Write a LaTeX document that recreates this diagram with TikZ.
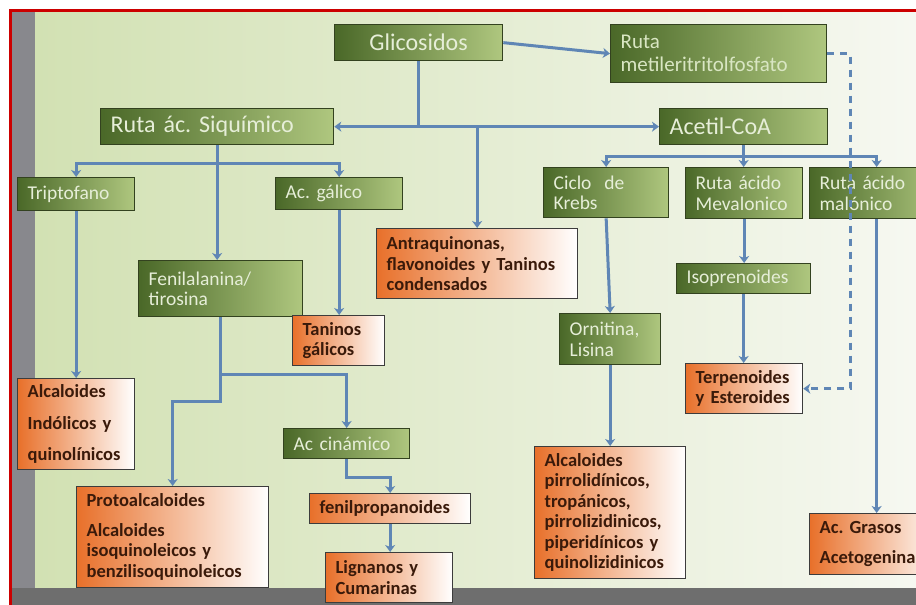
\documentclass[tikz,border=0pt]{standalone}
\usepackage{fontspec}
\setmainfont{Carlito}
\usepackage{xcolor}
\usetikzlibrary{arrows.meta}
\definecolor{gleft}{HTML}{4A6828}
\definecolor{gright}{HTML}{AFC77F}
\definecolor{gdark}{HTML}{33421F}
\definecolor{gtext}{HTML}{E6EED8}
\definecolor{gpale}{HTML}{D9E6C3}
\definecolor{oleft}{HTML}{E8702A}
\definecolor{odraw}{HTML}{3C3C3C}
\definecolor{otext}{HTML}{3A1A0A}
\definecolor{lblue}{HTML}{5F86B5}
\definecolor{bgl}{HTML}{D2E1B3}
\definecolor{bgr}{HTML}{F6F8F1}
\definecolor{framered}{HTML}{CC0000}
\definecolor{lgray}{HTML}{88888D}
\definecolor{bgray}{HTML}{6E6E6E}
\frenchspacing
\begin{document}
\begin{tikzpicture}[x=1pt, y=-1pt,
  >={Stealth[length=7pt,width=10pt,inset=2pt]},
  gbox/.style={draw=gdark, line width=1.3pt, left color=gleft, right color=gright, text=gtext, font=\fontsize{19.5}{20.5}\selectfont, align=left, anchor=north west, inner xsep=10pt, inner ysep=0pt},
  obox/.style={draw=odraw, line width=1.3pt, left color=oleft, right color=white, text=otext, font=\bfseries\fontsize{18.5}{20.5}\selectfont, align=left, anchor=north west, inner xsep=10pt, inner ysep=0pt},
  big/.style={font=\fontsize{24}{28}\selectfont},
  arr/.style={->, line width=3pt, draw=lblue},
  link/.style={line width=3pt, draw=lblue}
]
\useasboundingbox (0,0) rectangle (916,605);
\fill[white] (0,0) rectangle (916,605);
\shade[left color=bgl, right color=bgr] (35,12) rectangle (916,588);
\fill[lgray] (12,12) rectangle (35,605);
\fill[bgray] (12,588) rectangle (916,605);
\draw[framered, line width=3pt] (10.5,605) -- (10.5,10.5) -- (916,10.5);

\node[gbox, big, align=center, text width=148pt, minimum height=36pt] (glic) at (334,24) {Glicosidos};
\node[gbox, text=gpale, font=\fontsize{21}{23}\selectfont, text width=196pt, minimum height=58pt] (metil) at (610,24) {Ruta\\metileritritolfosfato};
\node[gbox, big, text width=213pt, minimum height=36pt] (siq) at (100,108) {Ruta ác. Siquímico};
\node[gbox, big, text width=148pt, minimum height=36pt] (acet) at (659,108) {Acetil-CoA};
\node[gbox, text width=97pt, minimum height=33pt] (trip) at (17,177) {Triptofano};
\node[gbox, text width=107pt, minimum height=32pt] (gal) at (275,177) {Ac. gálico};
\node[gbox, text width=105pt, minimum height=50pt] (krebs) at (543,167) {Ciclo \ de\\Krebs};
\node[gbox, text width=97pt, minimum height=51pt] (meva) at (685,167) {Ruta ácido\\Mevalonico};
\node[gbox, text width=114pt, minimum height=51pt] (malo) at (809,167) {Ruta ácido\\malónico};
\node[gbox, text width=144pt, minimum height=56pt] (fen) at (138,260) {Fenilalanina/\\tirosina};
\node[gbox, text width=81pt, minimum height=51pt] (orn) at (559,313) {Ornitina,\\Lisina};
\node[gbox, text width=114pt, minimum height=30pt] (iso) at (676,263) {Isoprenoides};
\node[gbox, text width=106pt, minimum height=30pt] (cin) at (283,428) {Ac cinámico};

\node[obox, text width=181pt, minimum height=70pt] (antr) at (376,228) {Antraquinonas,\\flavonoides y Taninos\\condensados};
\node[obox, text width=72pt, minimum height=50pt] (tang) at (292,315) {Taninos\\gálicos};
\node[obox, text width=97pt, minimum height=50pt] (terp) at (685,363) {Terpenoides\\y Esteroides};
\node[obox, text width=97pt, minimum height=91pt] (indol) at (17,378) {Alcaloides\\[11pt]Indólicos y\\[11pt]quinolínicos};
\node[obox, text width=172pt, minimum height=101pt] (proto) at (76,486) {Protoalcaloides\\[9pt]Alcaloides\\isoquinoleicos y\\benzilisoquinoleicos};
\node[obox, text width=141pt, minimum height=30pt] (fenp) at (309,493) {fenilpropanoides};
\node[obox, text width=107pt, minimum height=50pt] (lign) at (325,552) {Lignanos y\\Cumarinas};
\node[obox, text width=131pt, minimum height=132pt] (pirr) at (534,446) {Alcaloides\\pirrolidínicos,\\tropánicos,\\pirrolizidinicos,\\piperidínicos y\\quinolizidinicos};
\node[obox, text width=112pt, minimum height=61pt] (gras) at (809,513) {Ac. Grasos\\[10pt]Acetogenina};

\draw[arr] (glic.east) -- (metil.west);
\coordinate (jg) at (glic.south |- siq.east);
\draw[link] (glic.south) -- (jg);
\draw[arr, <->] (siq.east) -- (acet.west);
\draw[arr] (antr.north |- jg) -- (antr.north);
\coordinate (sbar) at ([yshift=-18pt]siq.south);
\draw[arr] (siq.south) -- (siq.south |- fen.north);
\draw[arr] (sbar) -| (trip.north);
\draw[arr] (sbar) -| (gal.north);
\draw[arr] (trip.south) -- (indol.north);
\draw[arr] (gal.south) -- (gal.south |- tang.north);
\coordinate (jf) at ([yshift=-57pt]fen.south);
\draw[arr] (fen.south) -- ([yshift=-84pt]fen.south) -| (proto.north);
\draw[arr] (jf) -| (cin.north);
\draw[arr] (cin.south) -- ([yshift=-18pt]cin.south) -| (fenp.north);
\draw[arr] (fenp.south) -- (fenp.south |- lign.north);
\coordinate (abar) at ([yshift=-11pt]acet.south);
\draw[arr] (acet.south) -- (acet.south |- meva.north);
\draw[arr] (abar) -| (krebs.north);
\draw[arr] (abar) -| (malo.north);
\draw[arr] (krebs.south) -- (orn.north);
\draw[arr] (orn.south) -- (pirr.north);
\draw[arr] (meva.south) -- (meva.south |- iso.north);
\draw[arr] (iso.south) -- (iso.south |- terp.north);
\draw[arr, dashed, dash pattern=on 7pt off 6pt] (metil.east) -- ++(23,0) |- (terp.east);
\draw[arr] (malo.south) -- (malo.south |- gras.north);
\end{tikzpicture}
\end{document}
